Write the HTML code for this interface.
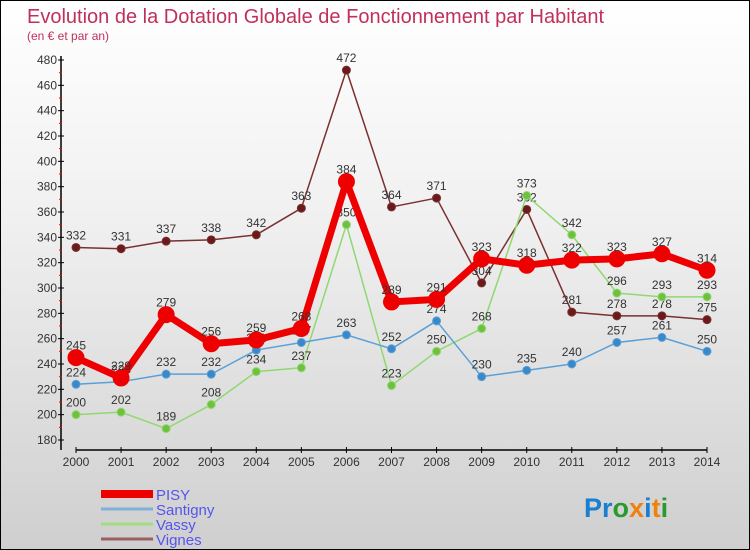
<!DOCTYPE html>
<html><head><meta charset="utf-8"><style>
body{margin:0}
#c{width:748px;height:548px;border:1px solid #000;background:linear-gradient(#fff,#f0f0f0 40%,#cfcfcf);position:relative;font-family:"Liberation Sans",sans-serif;overflow:hidden}
</style></head><body>
<div id="c">
<svg id="s" width="748" height="548" xmlns="http://www.w3.org/2000/svg">
<text x="26" y="22" font-size="20" fill="#c0305a">Evolution de la Dotation Globale de Fonctionnement par Habitant</text>
<text x="26" y="39" font-size="12" fill="#c0305a">(en € et par an)</text>
<g id="axes"></g><g id="series"></g><g id="legend"></g>
<text x="583" y="516" font-size="27" font-weight="bold"><tspan fill="#1a7fd0">Pr</tspan><tspan fill="#2a9a30">o</tspan><tspan fill="#f08010">x</tspan><tspan fill="#1a7fd0">i</tspan><tspan fill="#f08010">t</tspan><tspan fill="#2a9a30">i</tspan></text>
</svg></div>
<script>
const years=[2000,2001,2002,2003,2004,2005,2006,2007,2008,2009,2010,2011,2012,2013,2014];
const yTicks=[180,200,220,240,260,280,300,320,340,360,380,400,420,440,460,480];
const pisy=[245,229,279,256,259,268,384,289,291,323,318,322,323,327,314];
const santigny=[224,226,232,232,251,257,263,252,274,230,235,240,257,261,250];
const vassy=[200,202,189,208,234,237,350,223,250,268,373,342,296,293,293];
const vignes=[332,331,337,338,342,363,472,364,371,304,362,281,278,278,275];
const NS="http://www.w3.org/2000/svg";
function X(i){return 75+i*(706-75)/(years.length-1);}
function Y(v){return 439-(v-180)*(439-59)/300;}
function mk(t,a,p){const e=document.createElementNS(NS,t);for(const k in a)e.setAttribute(k,a[k]);p.appendChild(e);return e;}
const ax=document.getElementById('axes');
let l=mk('line',{x1:60,y1:55,x2:60,y2:449,stroke:'#000','stroke-width':1.5},ax);


l=mk('line',{x1:75,y1:449,x2:706,y2:449,stroke:'#000','stroke-width':1.5},ax);


yTicks.forEach((v,i)=>{
 mk('line',{x1:57,y1:Y(v),x2:63,y2:Y(v),stroke:'#000'},ax);
 if(i<yTicks.length-1)mk('line',{x1:58,y1:Y(v+10),x2:61,y2:Y(v+10),stroke:'#f00'},ax);
 const t=mk('text',{x:56,y:Y(v)+4,'font-size':12,'text-anchor':'end',fill:'#333'},ax);t.textContent=v;
 
 
});
years.forEach((y,i)=>{
 mk('line',{x1:X(i),y1:446,x2:X(i),y2:452,stroke:'#000'},ax);
 const t=mk('text',{x:X(i),y:465,'font-size':12,'text-anchor':'middle',fill:'#333'},ax);t.textContent=y;
 
 
});
const sg=document.getElementById('series');
function draw(data,name,col,dot,w,r){
 const g=mk('g',{},sg);
 
 
 mk('polyline',{points:data.map((v,i)=>X(i)+','+Y(v)).join(' '),fill:'none',stroke:col,'stroke-width':w,'stroke-linejoin':'round'},g);
 data.forEach((v,i)=>{
  const c=mk('circle',{cx:X(i),cy:Y(v),r:r,fill:dot,stroke:col,'stroke-width':1},g);
  
  
  const t=mk('text',{x:X(i),y:Y(v)-8,'font-size':12,'text-anchor':'middle',fill:'#333'},g);t.textContent=v;
  
  
 });
}
draw(vignes,'Vignes','#7a3030','#6a1a1a',1.5,4);
draw(vassy,'Vassy','#90d870','#70c040',1.5,4);
draw(santigny,'Santigny','#5aa0d8','#3a88c8',1.5,4);
draw(pisy,'PISY','#ee0000','#ee0000',7,8);
const lg=document.getElementById('legend');
[['PISY','#ee0000',8],['Santigny','#80b0d8',3],['Vassy','#a0dc80',3],['Vignes','#9a6060',3]].forEach((d,i)=>{
 const y=493+i*15;
 const g=mk('g',{},lg);
 
 
 mk('line',{x1:100,y1:y,x2:152,y2:y,stroke:d[1],'stroke-width':d[2]},g);
 const t=mk('text',{x:155,y:y+6,'font-size':15,fill:'#5555ee'},g);t.textContent=d[0];
});
</script>
</body></html>
